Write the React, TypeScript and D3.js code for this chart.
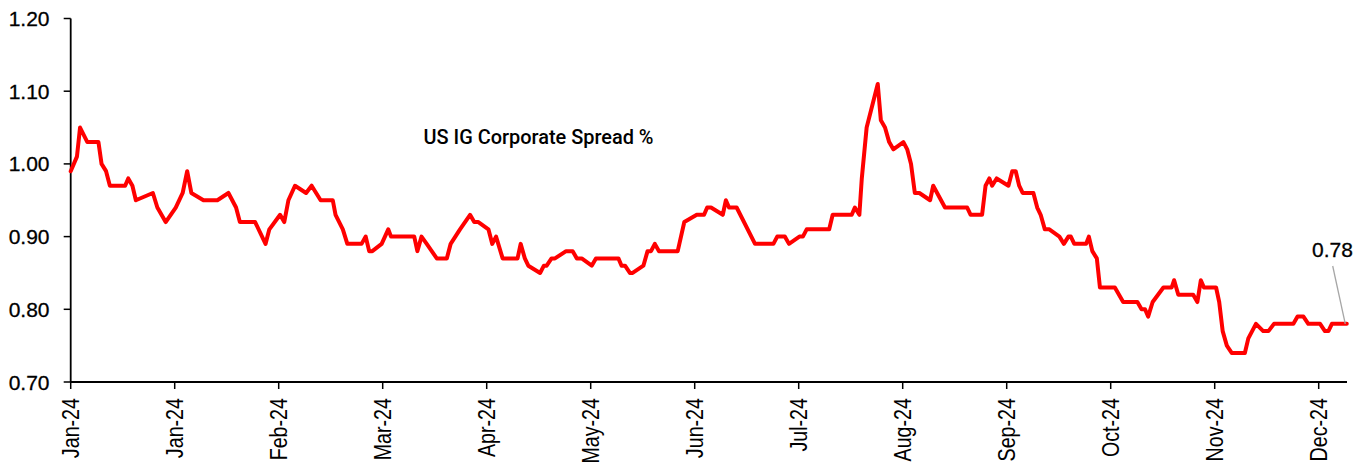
import React from "react";
import * as d3 from "d3";

// x positions are in days from the first observation; tick every 30 days
const dayIndex = [
  0, 1.8, 2.7, 4.8, 8.0, 8.9, 10.2, 11.3, 15.7, 16.6, 17.8, 18.8, 23.7, 25.0, 27.4, 30.3, 32.3, 33.6, 34.8,
  38.3, 42.3, 45.5, 47.7, 48.8, 53.2, 56.2, 57.3, 60.4, 61.6, 62.8, 64.7, 67.9, 69.5, 72.1, 75.6, 76.4,
  78.5, 79.8, 83.9, 85.1, 86.1, 87.0, 89.7, 91.6, 92.4, 99.1, 100.0, 101.2, 102.7, 105.6, 108.5, 109.6,
  112.3, 115.2, 116.4, 117.6, 120.5, 121.6, 122.7, 124.6, 128.9, 129.8, 131.0, 132.0, 135.4, 136.5, 137.3,
  138.7, 139.7, 142.9, 144.8, 146.0, 147.4, 150.3, 151.5, 158.0, 158.9, 159.9, 161.3, 162.1, 165.2, 166.4,
  167.4, 168.5, 169.7, 175.1, 177.0, 180.6, 182.7, 183.6, 184.7, 188.1, 189.0, 189.9, 192.1, 197.4, 202.7,
  203.8, 206.0, 207.2, 210.2, 211.2, 212.3, 218.8, 219.8, 225.3, 226.2, 227.5, 228.2, 229.6, 232.8, 233.7,
  234.9, 236.1, 237.3, 240.2, 241.3, 242.4, 243.5, 244.8, 247.9, 248.8, 252.2, 258.6, 259.6, 262.9, 263.9,
  265.0, 265.8, 267.1, 270.5, 271.6, 272.6, 273.6, 274.6, 277.7, 278.8, 279.8, 281.0, 282.3, 285.2, 286.5,
  287.8, 288.5, 289.5, 292.9, 293.7, 294.7, 296.0, 296.9, 301.2, 303.6, 307.7, 308.9, 309.9, 310.8, 312.1,
  315.2, 317.6, 318.3, 319.5, 323.8, 325.0, 326.0, 326.9, 330.4, 331.3, 332.3, 333.5, 334.9, 338.7, 339.7,
  341.9, 344.0, 345.5, 347.1, 352.7, 353.9, 355.6, 357.0, 360.4, 361.8, 362.8, 363.8, 368.1,
];
const spread = [
  0.99, 1.01, 1.05, 1.03, 1.03, 1.0, 0.99, 0.97, 0.97, 0.98, 0.97, 0.95, 0.96, 0.94, 0.92, 0.94, 0.96, 0.99, 0.96,
  0.95, 0.95, 0.96, 0.94, 0.92, 0.92, 0.89, 0.91, 0.93, 0.92, 0.95, 0.97, 0.96, 0.97, 0.95, 0.95, 0.93,
  0.91, 0.89, 0.89, 0.9, 0.88, 0.88, 0.89, 0.91, 0.9, 0.9, 0.88, 0.9, 0.89, 0.87, 0.87, 0.89,
  0.91, 0.93, 0.92, 0.92, 0.91, 0.89, 0.9, 0.87, 0.87, 0.89, 0.87, 0.86, 0.85, 0.86, 0.86,
  0.87, 0.87, 0.88, 0.88, 0.87, 0.87, 0.86, 0.87, 0.87, 0.86, 0.86, 0.85, 0.85, 0.86, 0.88,
  0.88, 0.89, 0.88, 0.88, 0.92, 0.93, 0.93, 0.94, 0.94, 0.93, 0.95, 0.94, 0.94, 0.89, 0.89,
  0.9, 0.9, 0.89, 0.9, 0.9, 0.91, 0.91, 0.93, 0.93, 0.94, 0.93, 0.98, 1.05, 1.11, 1.06,
  1.05, 1.03, 1.02, 1.03, 1.02, 1.0, 0.96, 0.96, 0.95, 0.97, 0.94, 0.94, 0.93, 0.93, 0.97,
  0.98, 0.97, 0.98, 0.97, 0.99, 0.99, 0.97, 0.96, 0.96, 0.94, 0.93, 0.91, 0.91, 0.9, 0.89,
  0.9, 0.9, 0.89, 0.89, 0.9, 0.88, 0.87, 0.83, 0.83, 0.81, 0.81, 0.8, 0.8, 0.79, 0.81,
  0.83, 0.83, 0.84, 0.82, 0.82, 0.81, 0.84, 0.83, 0.83, 0.81, 0.77, 0.75, 0.74, 0.74, 0.76,
  0.78, 0.77, 0.77, 0.78, 0.78, 0.79, 0.79, 0.78, 0.78, 0.77, 0.77, 0.78, 0.78,
];
const xTickDays = [0, 30, 60, 90, 120, 150, 180, 210, 240, 270, 300, 330, 360];
const xTickLabels = [
  "Jan-24", "Jan-24", "Feb-24", "Mar-24", "Apr-24", "May-24", "Jun-24",
  "Jul-24", "Aug-24", "Sep-24", "Oct-24", "Nov-24", "Dec-24",
];
const yTicks = [0.7, 0.8, 0.9, 1.0, 1.1, 1.2];
const title = "US IG Corporate Spread %";
const lastLabel = "0.78";

export default function App() {
  const W = 1368;
  const H = 466;
  const x0 = 70.7;
  const xEndAxis = 1347;
  const yTop = 18.5;
  const yBottom = 382;

  const x = d3.scaleLinear().domain([0, 360]).range([x0, 1318.7]);
  const y = d3.scaleLinear().domain([0.7, 1.2]).range([yBottom, yTop]);

  const pts: [number, number][] = dayIndex.map((d, i) => [d, spread[i]]);
  const line = d3
    .line<[number, number]>()
    .x((d) => x(d[0]))
    .y((d) => y(d[1]));

  const last = pts[pts.length - 1];
  const lx = x(last[0]);
  const ly = y(last[1]);

  const numFont = "'Liberation Sans', Arial, sans-serif";
  const narrowFont = "'Liberation Sans', Arial, sans-serif";
  const titleFont = "Roboto, 'Liberation Sans', sans-serif";

  return (
    <svg
      width={W}
      height={H}
      style={{ position: "absolute", left: 0, top: 0, background: "#fff" }}
    >
      {/* Y axis */}
      <line x1={x0} x2={x0} y1={yTop} y2={yBottom} stroke="#000" strokeWidth={1.8} />
      {yTicks.map((t) => (
        <g key={t}>
          <line x1={x0 - 7} x2={x0} y1={y(t)} y2={y(t)} stroke="#000" strokeWidth={1.5} />
          <text
            x={49.5}
            y={y(t)}
            textAnchor="end"
            dominantBaseline="central"
            fontFamily={numFont}
            fontSize={21}
            fill="#000"
            stroke="#000"
            strokeWidth={0.3}
          >
            {t.toFixed(2)}
          </text>
        </g>
      ))}
      {/* X axis */}
      <line x1={x0} x2={xEndAxis} y1={yBottom} y2={yBottom} stroke="#000" strokeWidth={1.8} />
      {xTickDays.map((d, i) => (
        <g key={i} transform={`translate(${x(d)},${yBottom})`}>
          <line y1={0} y2={7} stroke="#000" strokeWidth={1.5} />
          <text
            transform="translate(0,16) rotate(-90) scale(0.82,1)"
            textAnchor="end"
            dominantBaseline="central"
            fontFamily={narrowFont}
            fontSize={24}
            fill="#000"
          >
            {xTickLabels[i]}
          </text>
        </g>
      ))}
      {/* Series */}
      <path
        d={line(pts) || ""}
        fill="none"
        stroke="#ff0000"
        strokeWidth={4}
        strokeLinejoin="round"
        strokeLinecap="round"
      />
      {/* Title */}
      <text
        x={423.5}
        y={137}
        dominantBaseline="central"
        fontFamily={titleFont}
        fontWeight={500}
        fontSize={21}
        textLength={230}
        lengthAdjust="spacingAndGlyphs"
        fill="#000"
      >
        {title}
      </text>
      {/* Last value annotation */}
      <line x1={1332.7} y1={266} x2={lx - 1.5} y2={ly} stroke="#a6a6a6" strokeWidth={1.3} />
      <text
        x={1332.5}
        y={249}
        textAnchor="middle"
        dominantBaseline="central"
        fontFamily={numFont}
        fontSize={21}
        fill="#000"
        stroke="#000"
        strokeWidth={0.3}
      >
        {lastLabel}
      </text>
    </svg>
  );
}
